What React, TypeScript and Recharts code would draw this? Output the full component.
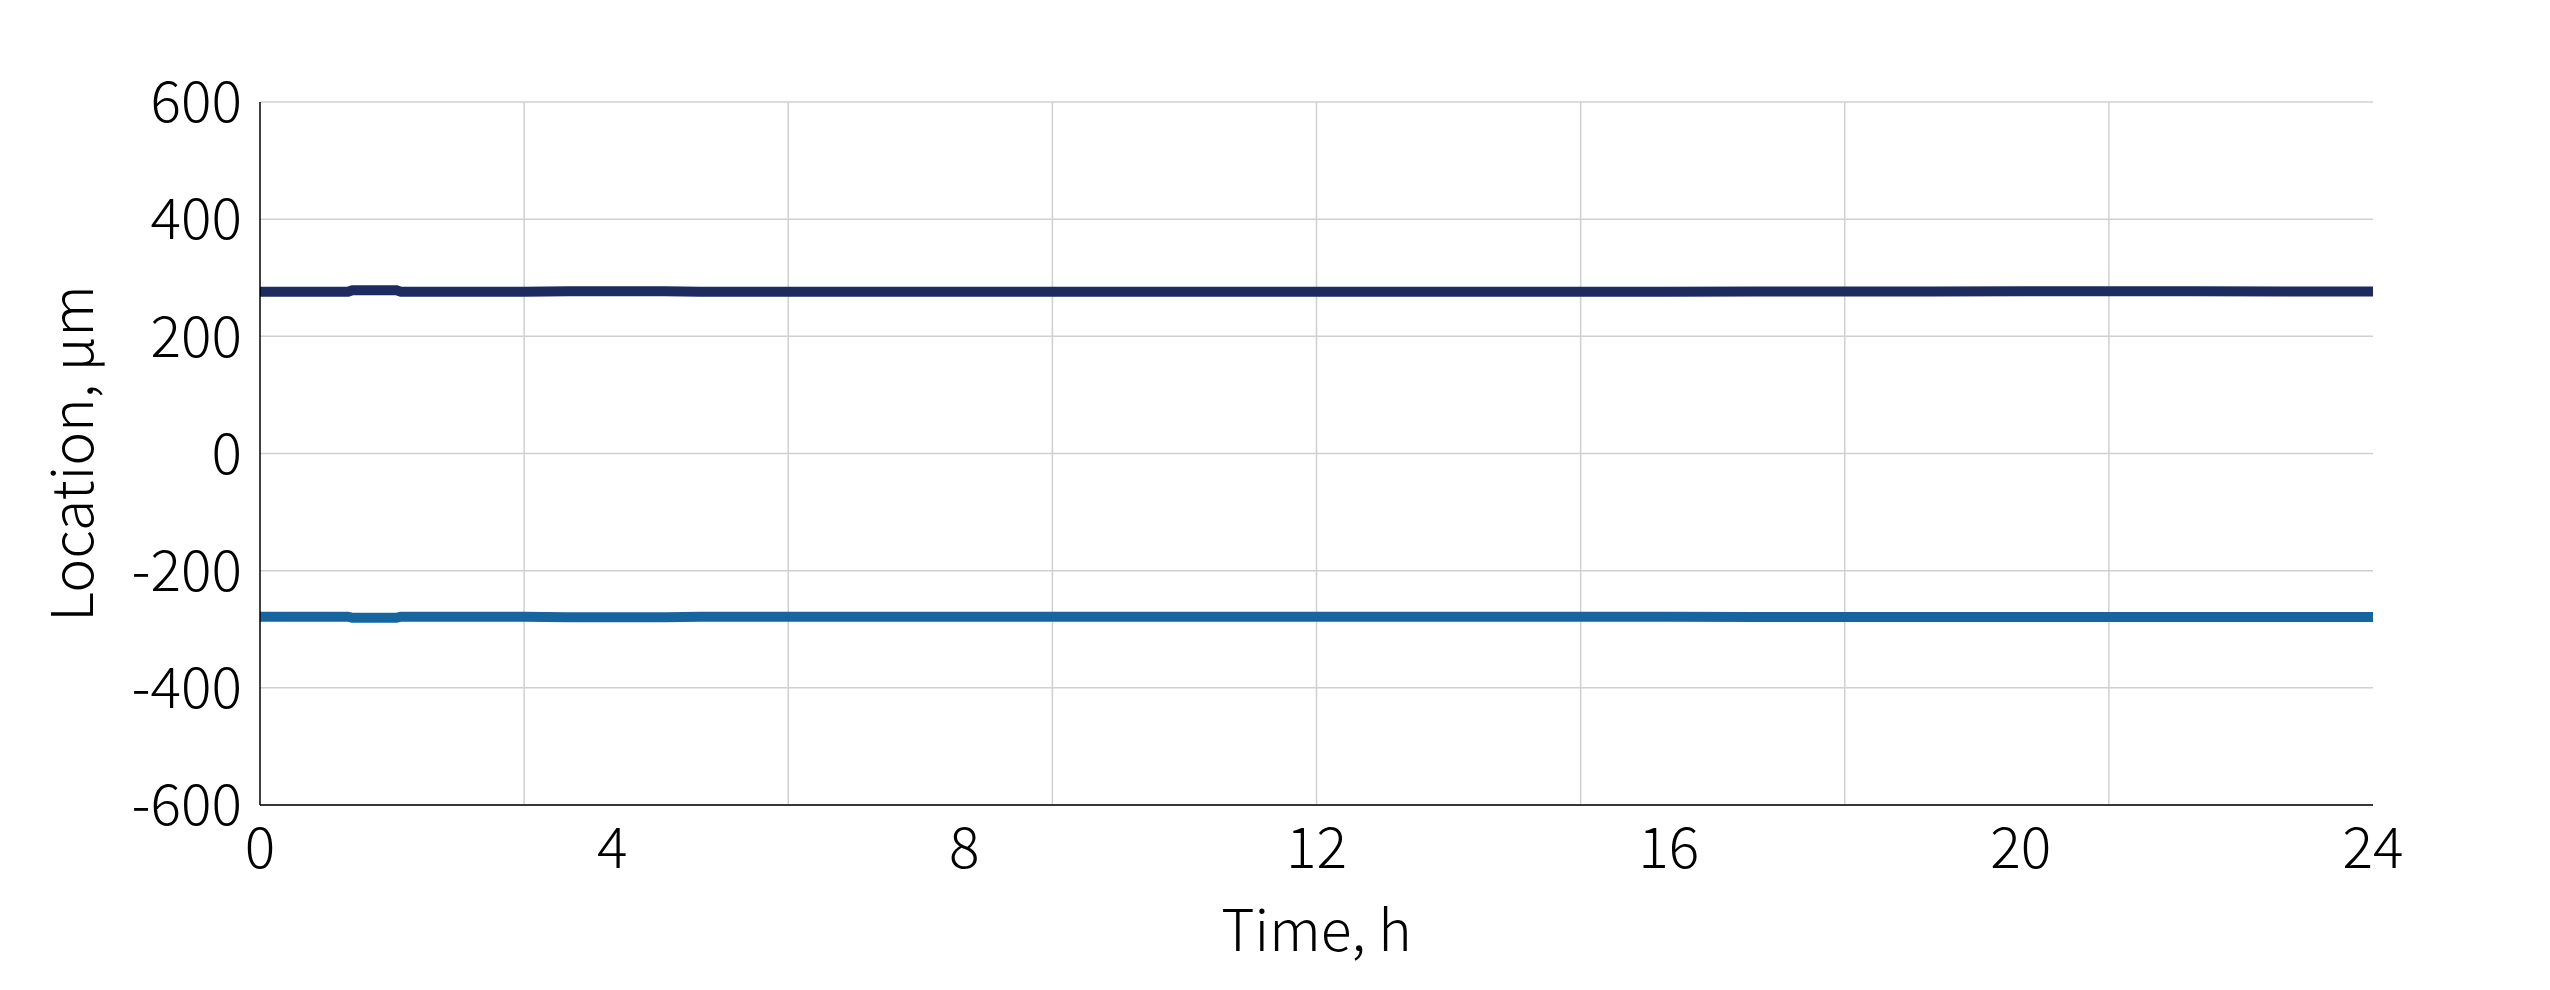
import React from 'react';
import {
  LineChart,
  Line,
  XAxis,
  YAxis,
  CartesianGrid,
} from 'recharts';

// time samples (h) and tracked edge locations (µm)
const TIME = [0, 0.5, 1.0, 1.05, 1.3, 1.55, 1.6, 2.0, 3.0, 3.5, 4.0, 4.6, 5.0, 6.0, 8.0, 10.0, 12.0, 14.0, 16.0, 17.0, 18.0, 19.0, 20.0, 21.0, 22.0, 23.0, 24.0];
const UPPER = [276, 276, 276, 278.5, 278.5, 278.5, 276, 276, 276, 277, 277, 277, 276, 276, 276, 276, 276, 276, 276, 276.5, 276.5, 276.5, 277, 277, 277, 276.5, 276.5];
const LOWER = [-278.5, -278.5, -278.5, -280.5, -280.5, -280.5, -278.5, -278.5, -278.5, -279.5, -279.5, -279.5, -278.5, -278.5, -278.5, -278.5, -278.5, -278.5, -278.5, -279, -279, -279, -279, -279, -279, -279, -279];

const X_TICKS = [0, 4, 8, 12, 16, 20, 24];
const X_GRID = [3, 6, 9, 12, 15, 18, 21];
const Y_TICKS = [-600, -400, -200, 0, 200, 400, 600];

const FONT = '"Noto Sans CJK SC", "Noto Sans", sans-serif';
const tickStyle = { fontSize: 57, fill: '#000', fontFamily: FONT, fontWeight: 300 };

const data = TIME.map((t, i) => ({ t, upper: UPPER[i], lower: LOWER[i] }));

export default function App() {
  return (
    <div style={{ position: 'absolute', left: 0, top: 0, width: 2550, height: 990, background: '#fff', fontFamily: FONT }}>
      <LineChart
        width={2550}
        height={990}
        data={data}
        margin={{ top: 102, right: 177, left: 0, bottom: 0 }}
      >
        <CartesianGrid stroke="#d0d0d0" strokeWidth={1.5} verticalValues={X_GRID} />
        <XAxis
          dataKey="t"
          type="number"
          domain={[0, 24]}
          ticks={X_TICKS}
          height={185}
          tickSize={0}
          tickMargin={23}
          axisLine={{ stroke: '#000', strokeWidth: 1.5 }}
          tickLine={false}
          tick={tickStyle}
          label={{ value: 'Time, h', position: 'insideBottom', offset: 39, fontSize: 57, fill: '#000', fontFamily: FONT, fontWeight: 300 }}
        />
        <XAxis xAxisId="top" orientation="top" type="number" domain={[0, 24]} height={0} tick={false} tickLine={false} axisLine={{ stroke: '#000', strokeWidth: 1.5 }} />
        <YAxis
          type="number"
          domain={[-600, 600]}
          ticks={Y_TICKS}
          width={260}
          tickSize={0}
          tickMargin={18}
          axisLine={{ stroke: '#000', strokeWidth: 1.5 }}
          tickLine={false}
          tick={tickStyle}
          label={{ value: 'Location, µm', angle: -90, position: 'center', dx: -57, fontSize: 57, fill: '#000', fontFamily: FONT, fontWeight: 300 }}
        />
        <YAxis yAxisId="right" orientation="right" type="number" domain={[-600, 600]} width={0} tick={false} tickLine={false} axisLine={{ stroke: '#000', strokeWidth: 1.5 }} />
        <Line dataKey="upper" type="linear" stroke="#1e2b5e" strokeWidth={10} dot={false} isAnimationActive={false} />
        <Line dataKey="lower" type="linear" stroke="#16659e" strokeWidth={10} dot={false} isAnimationActive={false} />
      </LineChart>
    </div>
  );
}
